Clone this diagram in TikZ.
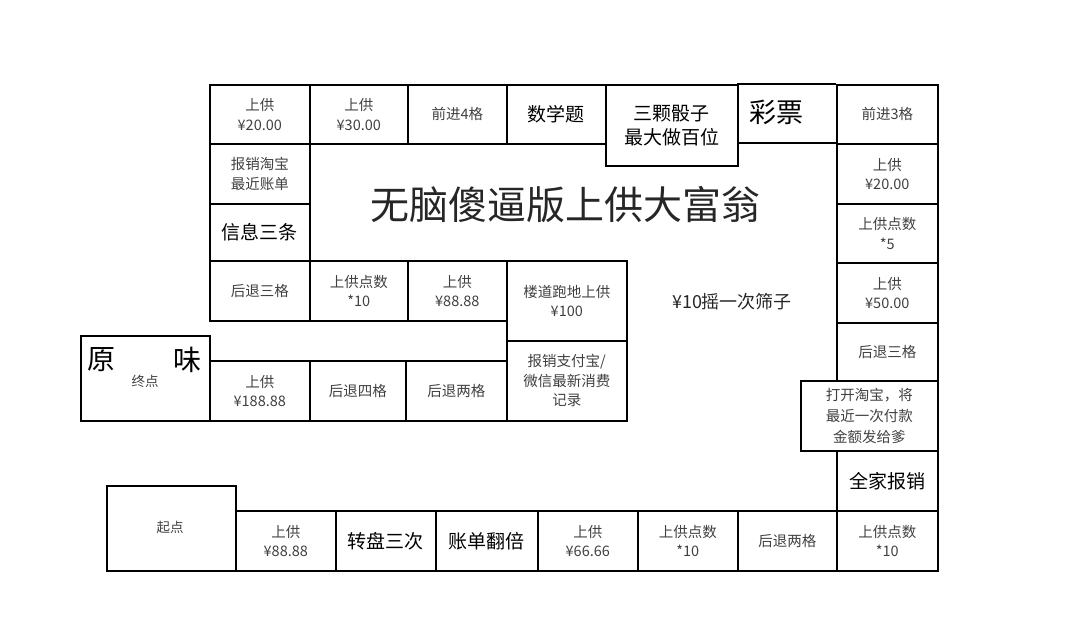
\documentclass[tikz,border=0pt]{standalone}
\usepackage{fontspec}
\setmainfont{Noto Sans CJK SC}
\begin{document}
\begin{tikzpicture}[x=1pt,y=-1pt,
  c/.style={draw,line width=1.6pt,anchor=north west,inner sep=0pt,align=center,font=\fontsize{14.5}{19.5}\selectfont,text=black!75},
  big/.style={font=\fontsize{19}{23}\selectfont,text=black}]
\useasboundingbox (0,0) rectangle (1080,620);
\newcommand{\cel}[6][]{\node[c,#1,minimum width=#4pt,minimum height=#5pt] (#2) at #3 {#6};}
% top row
\cel{t1}{(209,84)}{100}{59}{上供\\¥20.00}
\cel{t2}{(309,84)}{98}{59}{上供\\¥30.00}
\cel{t3}{(407,84)}{99}{59}{前进4格}
\cel[big]{t4}{(506,84)}{99}{59}{数学题}
\cel[big,font=\fontsize{19}{24}\selectfont]{t5}{(605,84)}{132}{81}{三颗骰子\\最大做百位}
\node[c,minimum width=99pt,minimum height=59pt,draw=none] (t6) at (737,84) {};
\draw[line width=1.6pt] (737,84) -- (836,84) (737,143) -- (836,143);
\node[font=\fontsize{27}{30}\selectfont,text=black] (t6t) at (776,112) {彩票};
\cel{t7}{(836,84)}{101}{59}{前进3格}
% left column
\cel{l1}{(209,143)}{100}{60}{报销淘宝\\最近账单}
\cel[big]{l2}{(209,203)}{100}{57}{信息三条}
\cel{l3}{(209,260)}{100}{60}{后退三格}
\cel{i1}{(309,260)}{98}{60}{上供点数\\*10}
\cel{i2}{(407,260)}{99}{60}{上供\\¥88.88}
\cel{i3}{(506,260)}{120}{80}{楼道跑地上供\\¥100}
\cel{i4}{(506,340)}{120}{80}{报销支付宝/\\微信最新消费\\记录}
\cel{m1}{(209,360)}{100}{60}{上供\\¥188.88}
\cel{m2}{(309,360)}{96}{60}{后退四格}
\cel{m3}{(405,360)}{101}{60}{后退两格}
\cel{end}{(80,335)}{129}{85}{}
\node[font=\fontsize{28}{30}\selectfont,text=black] (e1) at (101,360) {原};
\node[font=\fontsize{28}{30}\selectfont,text=black] (e2) at (187,360) {味};
\node[font=\fontsize{13.5}{15}\selectfont,text=black!75] (e3) at (145,381) {终点};
% right column
\cel{r1}{(836,143)}{101}{60}{上供\\¥20.00}
\cel{r2}{(836,203)}{101}{59}{上供点数\\*5}
\cel{r3}{(836,262)}{101}{60}{上供\\¥50.00}
\cel{r4}{(836,322)}{101}{58}{后退三格}
\cel[font=\fontsize{14.5}{21}\selectfont]{r5}{(800,380)}{137}{70}{打开淘宝，将\\最近一次付款\\金额发给爹}
\cel[big]{r6}{(836,450)}{101}{60}{全家报销}
% bottom row
\cel{start}{(106,485)}{129}{85}{}
\node[font=\fontsize{13.5}{15}\selectfont,text=black!75] (st) at (170,527) {起点};
\cel{b1}{(235,510)}{100}{60}{上供\\¥88.88}
\cel[big]{b2}{(335,510)}{100}{60}{转盘三次}
\cel[big]{b3}{(435,510)}{102}{60}{账单翻倍}
\cel{b4}{(537,510)}{100}{60}{上供\\¥66.66}
\cel{b5}{(637,510)}{100}{60}{上供点数\\*10}
\cel{b6}{(737,510)}{99}{60}{后退两格}
\cel{b7}{(836,510)}{101}{60}{上供点数\\*10}
% center
\node[font=\fontsize{39}{44}\selectfont,text=black!85] (title) at (565,205) {无脑傻逼版上供大富翁};
\node[font=\fontsize{18}{22}\selectfont,text=black!85] (dice) at (732,302) {¥10摇一次筛子};
\end{tikzpicture}
\end{document}
